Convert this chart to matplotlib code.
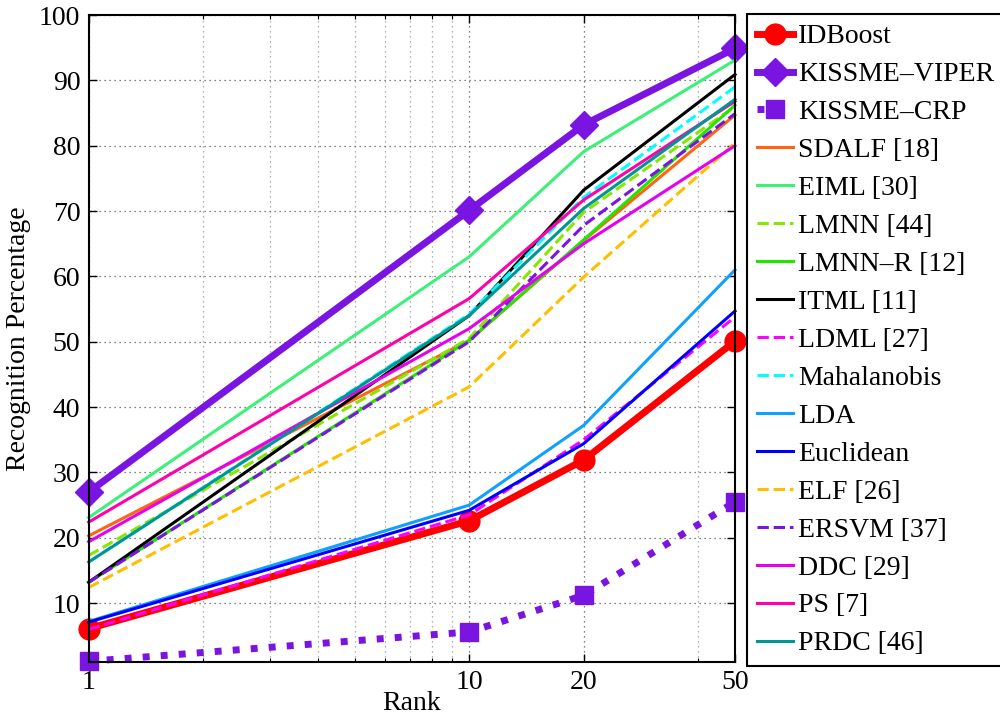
import matplotlib.pyplot as plt
from matplotlib.ticker import FixedLocator, NullFormatter

plt.rcParams["font.family"] = ["Liberation Serif", "DejaVu Serif"]
plt.rcParams["font.size"] = 20

# CMC curves: recognition percentage at ranks 1, 10, 20, 50
RANKS = [1, 10, 20, 50]
RANK_LABELS = ["1", "10", "20", "50"]

idboost = [6.1, 22.6, 31.9, 50.1]
kissme_viper = [27.0, 70.1, 83.2, 94.9]
kissme_crp = [1.1, 5.6, 11.2, 25.5]
sdalf = [20.3, 50.2, 65.5, 84.7]
eiml = [23.1, 63.0, 79.1, 93.1]
lmnn = [17.3, 50.5, 69.8, 86.0]
lmnn_r = [13.2, 50.2, 65.6, 86.2]
itml = [13.2, 54.0, 73.2, 90.9]
ldml = [6.0, 23.5, 35.0, 53.8]
mahalanobis = [16.3, 54.2, 72.1, 89.0]
lda = [7.2, 25.0, 37.2, 61.0]
euclidean = [7.1, 24.2, 34.4, 54.7]
elf = [12.4, 43.1, 59.9, 80.4]
ersvm = [13.2, 50.0, 67.8, 84.9]
ddc = [19.4, 52.0, 65.0, 80.0]
ps = [22.4, 56.6, 71.7, 86.8]
prdc = [16.3, 54.0, 70.4, 87.1]

PURPLE = "#7a14e0"
thin = dict(lw=2.2)
series = [
    ("IDBoost", idboost, dict(color="#ff0000", lw=5, marker="o", ms=15)),
    ("KISSME\u2013VIPER", kissme_viper, dict(color=PURPLE, lw=5, marker="D", ms=14)),
    ("KISSME\u2013CRP", kissme_crp, dict(color=PURPLE, lw=5, ls=(0, (1, 1.6)),
                                         marker="s", ms=13)),
    ("SDALF [18]", sdalf, dict(color="#ff6414", **thin)),
    ("EIML [30]", eiml, dict(color="#3cf078", **thin)),
    ("LMNN [44]", lmnn, dict(color="#88e600", ls="--", **thin)),
    ("LMNN\u2013R [12]", lmnn_r, dict(color="#22e600", **thin)),
    ("ITML [11]", itml, dict(color="black", **thin)),
    ("LDML [27]", ldml, dict(color="#ff00ff", ls="--", **thin)),
    ("Mahalanobis", mahalanobis, dict(color="#00ffff", ls="--", **thin)),
    ("LDA", lda, dict(color="#10a0ff", **thin)),
    ("Euclidean", euclidean, dict(color="#0000ff", **thin)),
    ("ELF [26]", elf, dict(color="#ffbe00", ls="--", **thin)),
    ("ERSVM [37]", ersvm, dict(color=PURPLE, ls="--", **thin)),
    ("DDC [29]", ddc, dict(color="#e600f0", **thin)),
    ("PS [7]", ps, dict(color="#ff00aa", **thin)),
    ("PRDC [46]", prdc, dict(color="#009696", **thin)),
]

fig = plt.figure(figsize=(10, 7.19), dpi=100)
ax = fig.add_axes([0.0887, 0.0793, 0.6463, 0.8998])

handles = []
for label, values, style in series:
    h, = ax.plot(RANKS, values, label=label, clip_on=False,
                 dash_capstyle="butt", **style)
    handles.append(h)

ax.set_xscale("log")
ax.set_xlim(1, 50)
ax.set_ylim(1, 100)
ax.xaxis.set_major_locator(FixedLocator(RANKS))
ax.set_xticklabels(RANK_LABELS)
ax.xaxis.set_minor_locator(FixedLocator([2, 3, 4, 5, 6, 7, 8, 9, 40]))
ax.xaxis.set_minor_formatter(NullFormatter())
ax.set_yticks(range(10, 101, 10))

dotted = (0, (1, 3))
ax.grid(which="major", ls=dotted, color="0.35", lw=0.9)
ax.grid(which="minor", axis="x", ls=dotted, color="0.6", lw=0.9)
ax.set_axisbelow(True)

ax.tick_params(which="both", direction="in", top=True, right=True,
               labelsize=20)
ax.tick_params(which="major", length=6, width=1, pad=6)
ax.tick_params(which="minor", length=3, width=0.8)
for sp in ax.spines.values():
    sp.set_linewidth(1.5)

ax.set_xlabel("Rank", fontsize=20, labelpad=-3)
ax.set_ylabel("Recognition Percentage", fontsize=20, labelpad=6)

leg = fig.legend(handles=handles, loc="upper left",
                 bbox_to_anchor=(0.747, 0.0793, 0.30, 0.901),
                 mode="expand", borderaxespad=0, frameon=True,
                 fancybox=False, edgecolor="black", framealpha=1,
                 handlelength=1.3, handletextpad=0.2, labelspacing=0.45,
                 borderpad=0.35, fontsize=20)
leg.get_frame().set_linewidth(1.5)

fig.savefig("out.png", dpi=100)
